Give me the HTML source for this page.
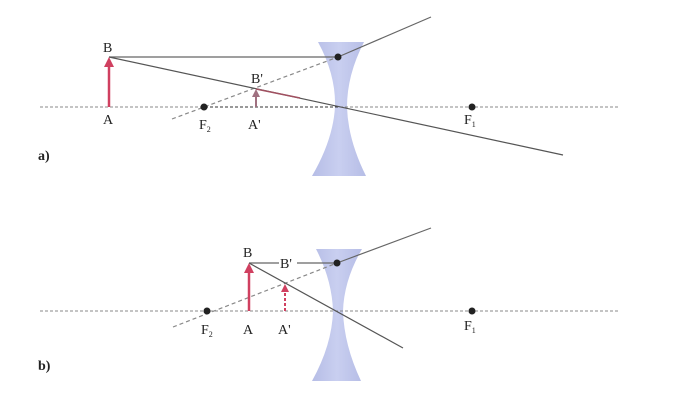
<!DOCTYPE html>
<html><head><style>
body{margin:0;background:#fff;}
svg{display:block;}
text{font-family:"Liberation Serif",serif;font-size:14px;fill:#222;}
</style></head><body>
<svg width="688" height="415" viewBox="0 0 688 415">
<defs>
<linearGradient id="lg" x1="0" x2="1"><stop offset="0" stop-color="#b6bde6"/><stop offset="0.5" stop-color="#c9cff0"/><stop offset="1" stop-color="#b6bde6"/></linearGradient>
</defs>
<!-- a -->
<path d="M318,42 L364,42 Q347,75 347,107 Q348,140 366,176 L312,176 Q333,140 335,107 Q336,75 318,42 Z" fill="url(#lg)"/>
<line x1="40" y1="107" x2="620" y2="107" stroke="#888" stroke-width="1" stroke-dasharray="3,2"/>
<line x1="205" y1="107" x2="340" y2="107" stroke="#333" stroke-width="1" stroke-dasharray="3,2"/>
<line x1="109" y1="57" x2="340" y2="57" stroke="#666" stroke-width="1.2"/>
<line x1="338" y1="57" x2="431" y2="17" stroke="#666" stroke-width="1.2"/>
<line x1="172" y1="119" x2="338" y2="57" stroke="#888" stroke-width="1.2" stroke-dasharray="4,3"/>
<line x1="109" y1="57" x2="563" y2="155" stroke="#555" stroke-width="1.2"/>
<line x1="256" y1="89" x2="300" y2="98" stroke="#a05060" stroke-width="1.5"/>
<line x1="109" y1="107" x2="109" y2="64" stroke="#d04060" stroke-width="2.5"/>
<polygon points="109,57 104,67 114,67" fill="#d04060"/>
<line x1="256" y1="107" x2="256" y2="95" stroke="#a07080" stroke-width="2"/>
<polygon points="256,89 252,97 260,97" fill="#a07080"/>
<circle cx="338" cy="57" r="3.5" fill="#222"/>
<circle cx="204" cy="107" r="3.5" fill="#222"/>
<circle cx="472" cy="107" r="3.5" fill="#222"/>
<text x="103" y="52">B</text><text x="103" y="124">A</text>
<text x="199" y="129">F<tspan font-size="8" dy="3">2</tspan></text>
<text x="248" y="129">A'</text><text x="251" y="83" fill="#777">B'</text>
<text x="464" y="124">F<tspan font-size="8" dy="3">1</tspan></text>
<text x="38" y="160" font-weight="bold">a)</text>
<!-- b -->
<path d="M316,249 L362,249 Q344,280 343,311 Q344,345 361,381 L312,381 Q332,345 333,311 Q332,280 316,249 Z" fill="url(#lg)"/>
<line x1="40" y1="311" x2="620" y2="311" stroke="#888" stroke-width="1" stroke-dasharray="3,2"/>
<line x1="249" y1="263" x2="337" y2="263" stroke="#666" stroke-width="1.2"/>
<line x1="337" y1="263" x2="431" y2="228" stroke="#666" stroke-width="1.2"/>
<line x1="173" y1="327" x2="337" y2="263" stroke="#888" stroke-width="1.2" stroke-dasharray="4,3"/>
<line x1="249" y1="263" x2="403" y2="348" stroke="#555" stroke-width="1.2"/>
<line x1="249" y1="311" x2="249" y2="270" stroke="#d04060" stroke-width="2.5"/>
<polygon points="249,263 244,273 254,273" fill="#d04060"/>
<line x1="285" y1="311" x2="285" y2="291" stroke="#d04060" stroke-width="2" stroke-dasharray="3,2"/>
<polygon points="285,284 281,292 289,292" fill="#d04060"/>
<circle cx="337" cy="263" r="3.5" fill="#222"/>
<circle cx="207" cy="311" r="3.5" fill="#222"/>
<circle cx="472" cy="311" r="3.5" fill="#222"/>
<rect x="279" y="256" width="18" height="12" fill="#fff"/>
<text x="243" y="257">B</text><text x="280" y="268">B'</text>
<text x="243" y="334">A</text><text x="278" y="334">A'</text>
<text x="201" y="334">F<tspan font-size="8" dy="3">2</tspan></text>
<text x="464" y="330">F<tspan font-size="8" dy="3">1</tspan></text>
<text x="38" y="370" font-weight="bold">b)</text>
</svg>
</body></html>
